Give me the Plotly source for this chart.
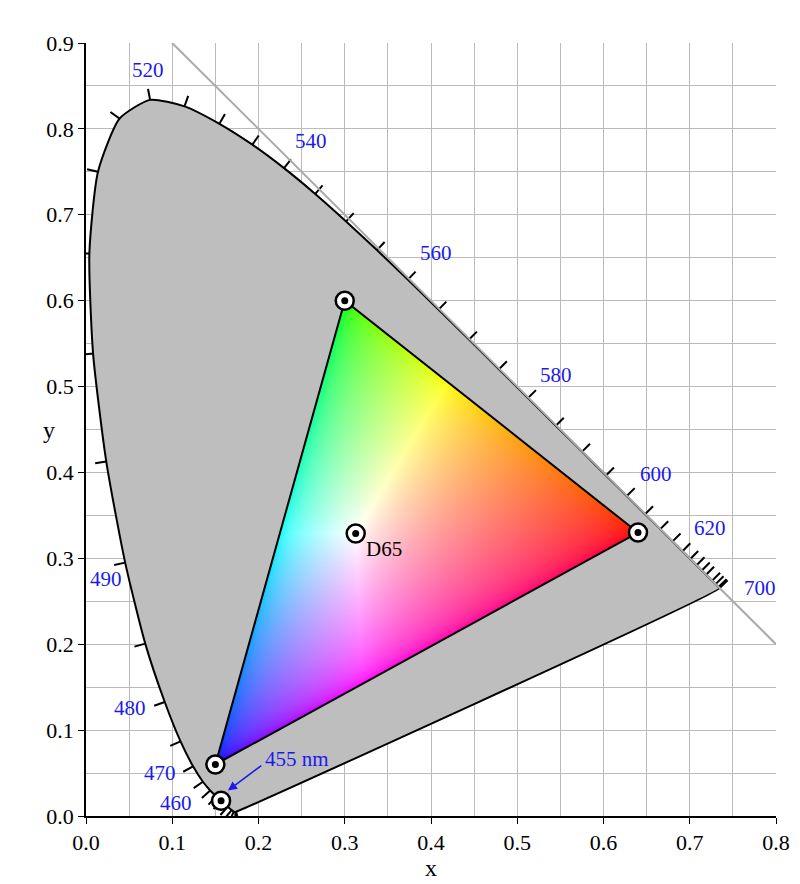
import base64
import struct
import zlib
import numpy as np
import plotly.graph_objects as go

# CIE 1931 spectral locus (nm, x, y)
wl = [380, 400, 420, 430, 440, 450, 455, 460, 465, 470, 475, 480, 485, 490, 495, 500,
      505, 510, 515, 520, 525, 530, 535, 540, 545, 550, 555, 560, 565, 570, 575, 580,
      585, 590, 595, 600, 605, 610, 615, 620, 625, 630, 635, 640, 650, 660, 680, 700]
loc_x = [0.1741, 0.1733, 0.1714, 0.1689, 0.1644, 0.1566, 0.1510, 0.1440, 0.1355, 0.1241,
         0.1096, 0.0913, 0.0687, 0.0454, 0.0235, 0.0082, 0.0039, 0.0139, 0.0389, 0.0743,
         0.1142, 0.1547, 0.1929, 0.2296, 0.2658, 0.3016, 0.3373, 0.3731, 0.4087, 0.4441,
         0.4788, 0.5125, 0.5448, 0.5752, 0.6029, 0.6270, 0.6482, 0.6658, 0.6801, 0.6915,
         0.7006, 0.7079, 0.7140, 0.7190, 0.7260, 0.7300, 0.7334, 0.7347]
loc_y = [0.0050, 0.0048, 0.0051, 0.0069, 0.0109, 0.0177, 0.0227, 0.0297, 0.0399, 0.0578,
         0.0868, 0.1327, 0.2007, 0.2950, 0.4127, 0.5384, 0.6548, 0.7502, 0.8120, 0.8338,
         0.8262, 0.8059, 0.7816, 0.7543, 0.7243, 0.6923, 0.6589, 0.6245, 0.5896, 0.5547,
         0.5202, 0.4866, 0.4544, 0.4242, 0.3965, 0.3725, 0.3514, 0.3340, 0.3197, 0.3083,
         0.2993, 0.2920, 0.2859, 0.2809, 0.2740, 0.2700, 0.2666, 0.2653]

# sRGB primaries and white point
prim_x = [0.64, 0.30, 0.15]
prim_y = [0.33, 0.60, 0.06]
d65 = (0.3127, 0.3290)
marker455 = (0.1566, 0.0177)

# wavelength labels: text, x, y
lab_text = ["520", "540", "560", "580", "600", "620", "700", "500", "490", "480", "470", "460", "380"]
lab_x = [0.072, 0.261, 0.406, 0.545, 0.661, 0.723, 0.781, -0.032, 0.023, 0.051, 0.086, 0.104, 0.197]
lab_y = [0.868, 0.786, 0.655, 0.513, 0.398, 0.335, 0.265, 0.537, 0.276, 0.126, 0.050, 0.015, -0.005]

serif = "Liberation Serif, DejaVu Serif, serif"
blue = "#1a1aee"


def png_uri(rgba):
    h, w, _ = rgba.shape
    raw = b"".join(b"\x00" + rgba[r].tobytes() for r in range(h))

    def chunk(tag, data):
        return struct.pack(">I", len(data)) + tag + data + struct.pack(">I", zlib.crc32(tag + data) & 0xffffffff)

    png = (b"\x89PNG\r\n\x1a\n" + chunk(b"IHDR", struct.pack(">IIBBBBB", w, h, 8, 6, 0, 0, 0))
           + chunk(b"IDAT", zlib.compress(raw, 9)) + chunk(b"IEND", b""))
    return "data:image/png;base64," + base64.b64encode(png).decode()


fig = go.Figure()

# grey locus area
fig.add_trace(go.Scatter(x=loc_x + [loc_x[0]], y=loc_y + [loc_y[0]], mode="lines",
                         fill="toself", fillcolor="#bebebe",
                         line=dict(color="black", width=2, shape="spline", smoothing=0.6),
                         hoverinfo="skip"))

# gradient image of the sRGB gamut
x_lo, x_hi, y_lo, y_hi = 0.14, 0.65, 0.05, 0.61
step = 0.001
xs = np.arange(x_lo, x_hi, step) + step / 2
ys = np.arange(y_hi, y_lo, -step) - step / 2
X, Y = np.meshgrid(xs, ys)
(x1, x2, x3), (y1, y2, y3) = prim_x, prim_y
den = (y2 - y3) * (x1 - x3) + (x3 - x2) * (y1 - y3)
a = ((y2 - y3) * (X - x3) + (x3 - x2) * (Y - y3)) / den
b = ((y3 - y1) * (X - x3) + (x1 - x3) * (Y - y3)) / den
c = 1 - a - b
inside = (a >= 0) & (b >= 0) & (c >= 0)
XX = X / Y
ZZ = (1 - X - Y) / Y
R = 3.2406 * XX - 1.5372 - 0.4986 * ZZ
G = -0.9689 * XX + 1.8758 + 0.0415 * ZZ
B = 0.0557 * XX - 0.2040 + 1.0570 * ZZ
rgb = np.clip(np.stack([R, G, B], axis=-1), 0, None)
rgb = rgb / np.maximum(rgb.max(axis=-1, keepdims=True), 1e-9)
rgb = np.where(rgb <= 0.0031308, 12.92 * rgb, 1.055 * rgb ** (1 / 2.4) - 0.055)
img = np.zeros(X.shape + (4,), dtype=np.uint8)
img[..., :3] = np.round(np.clip(rgb, 0, 1) * 255).astype(np.uint8)
img[..., 3] = np.where(inside, 255, 0).astype(np.uint8)
fig.add_layout_image(source=png_uri(img), xref="x", yref="y", x=x_lo, y=y_hi,
                     sizex=len(xs) * step, sizey=len(ys) * step, sizing="stretch",
                     xanchor="left", yanchor="top", layer="above")

# ticks on the locus (outward normals)
lx, ly = np.array(loc_x), np.array(loc_y)
tx, ty = [], []
for i in range(len(wl)):
    j0, j1 = max(i - 1, 0), min(i + 1, len(wl) - 1)
    dx, dy = lx[j1] - lx[j0], ly[j1] - ly[j0]
    n = np.hypot(dx, dy)
    nx, ny = -dy / n, dx / n
    tx += [lx[i], lx[i] + 0.013 * nx, None]
    ty += [ly[i], ly[i] + 0.013 * ny, None]
fig.add_trace(go.Scatter(x=tx, y=ty, mode="lines", line=dict(color="black", width=2),
                         hoverinfo="skip"))

# x + y = 1 line
fig.add_trace(go.Scatter(x=[0.1, 0.8], y=[0.9, 0.2], mode="lines",
                         line=dict(color="#aaaaaa", width=2), hoverinfo="skip"))

# triangle outline above the image
path = "M {} {} L {} {} L {} {} Z".format(prim_x[0], prim_y[0], prim_x[1], prim_y[1], prim_x[2], prim_y[2])
fig.add_shape(type="path", path=path, xref="x", yref="y", layer="above",
              line=dict(color="black", width=2))

# markers as pixel-sized shapes so they sit above the image
for px_, py_ in zip(prim_x + [d65[0], marker455[0]], prim_y + [d65[1], marker455[1]]):
    for r, fill, lw in [(9, "white", 2.5), (3.5, "black", 0)]:
        fig.add_shape(type="circle", xref="x", yref="y", xsizemode="pixel", ysizemode="pixel",
                      xanchor=px_, yanchor=py_, x0=-r, x1=r, y0=-r, y1=r, layer="above",
                      fillcolor=fill, line=dict(color="black", width=lw))

# wavelength labels
for t, x, y in zip(lab_text, lab_x, lab_y):
    fig.add_annotation(x=x, y=y, text=t, showarrow=False,
                       font=dict(family=serif, size=21, color=blue))

fig.add_annotation(x=d65[0] + 0.01, y=d65[1] - 0.002, text="D65", showarrow=False,
                   xanchor="left", yanchor="top", font=dict(family=serif, size=21, color="black"))
fig.add_annotation(x=marker455[0] + 0.008, y=marker455[1] + 0.012, ax=0.205, ay=0.06,
                   axref="x", ayref="y", text="", showarrow=True, arrowhead=2,
                   arrowcolor=blue, arrowwidth=1.5, arrowsize=1.2)
fig.add_annotation(x=0.205, y=0.066, text="455 nm", showarrow=False, xanchor="left",
                   font=dict(family=serif, size=21, color=blue))
fig.add_annotation(x=-0.065, y=0.45, xref="paper", yref="y", text="y", showarrow=False,
                   font=dict(family=serif, size=24, color="black"))

axis_common = dict(showgrid=True, gridcolor="#bbbbbb", gridwidth=1, dtick=0.1,
                   minor=dict(dtick=0.05, showgrid=True, gridcolor="#bbbbbb"),
                   tickformat=".1f", showline=True, linecolor="black", linewidth=1.5,
                   ticks="outside", ticklen=6, tickcolor="black", zeroline=False,
                   autorange=False, tickfont=dict(family=serif, size=22, color="black"))
fig.update_xaxes(range=[0, 0.8], title=dict(text="x", font=dict(family=serif, size=24, color="black"),
                                            standoff=2), **axis_common)
fig.update_yaxes(range=[0, 0.9], **axis_common)

fig.update_layout(width=800, height=884, showlegend=False, plot_bgcolor="white",
                  paper_bgcolor="white", margin=dict(l=78, r=32, t=35, b=76))

fig.write_html("out.html")
